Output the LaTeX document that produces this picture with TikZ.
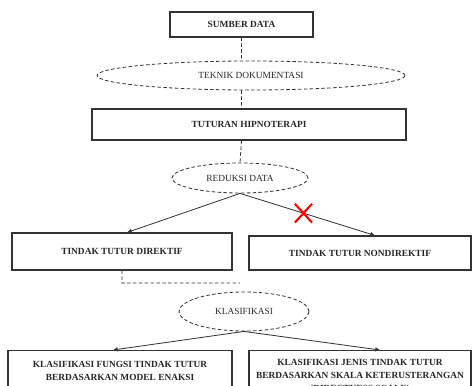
\documentclass[tikz,border=0pt]{standalone}
\usepackage{fontspec}
\setmainfont{Liberation Serif}
\usetikzlibrary{shapes.geometric,shapes.misc,arrows.meta,positioning}

\begin{document}
\begin{tikzpicture}[x=0.03cm,y=-0.03cm]
    \tikzset{box/.style={draw=black!80,line width=0.9pt,rectangle,align=center,inner sep=0pt,
        text=black!85,font=\fontsize{8}{11.4}\selectfont\bfseries},
      oval/.style={draw=black!80,ellipse,line width=0.7pt,dash pattern=on 3pt off 2pt,inner sep=0pt,
        text=black!85,font=\fontsize{8}{10}\selectfont},
      dashline/.style={draw=black!80,line width=0.7pt,dash pattern=on 3pt off 2pt},
      arrow/.style={draw=black!80,line width=0.7pt,-{Latex[length=4pt,width=4pt]}},
      cross/.style={cross out,draw=red,line width=1.8pt,inner sep=0pt,minimum width=0.45cm,minimum height=0.5cm}}
    \useasboundingbox (0,0) rectangle (472,385);
    \clip (0,0) rectangle (472,385);
    \node[box,minimum width=4.29cm,minimum height=0.75cm] (src) at (241.5,24.5) {SUMBER DATA};
    \node[oval,minimum width=9.24cm,minimum height=0.87cm] (tek) at (251,75.5) {TEKNIK DOKUMENTASI};
    \node[box,minimum width=9.42cm,minimum height=0.93cm] (tut) at (249,124.5) {TUTURAN HIPNOTERAPI};
    \node[oval,minimum width=4.08cm,minimum height=0.9cm] (red) at (240,178) {REDUKSI DATA};
    \node[box,minimum width=6.6cm,minimum height=1.11cm] (dir) at (122,251.5) {TINDAK TUTUR DIREKTIF};
    \node[box,minimum width=6.66cm,minimum height=1.02cm] (non) at (360,253) {TINDAK TUTUR NONDIREKTIF};
    \coordinate (bend) at (240,283);
    \node[oval,minimum width=3.9cm,minimum height=1.17cm] (kla) at (244,311.5) {KLASIFIKASI};
    \node[box,minimum width=6.72cm,minimum height=1.23cm,anchor=north] (fung) at (120,350)
      {KLASIFIKASI FUNGSI TINDAK TUTUR\\BERDASARKAN MODEL ENAKSI};
    \node[box,minimum width=6.66cm,minimum height=1.56cm,anchor=north] (jenis) at (360,350)
      {KLASIFIKASI JENIS TINDAK TUTUR\\BERDASARKAN SKALA KETERUSTERANGAN\\(DIRECTNESS SCALE)};
    % dashed links
    \path[dashline]
    (src.south) -- (src.south |- tek.north)
    (src.south |- tek.south) -- (src.south |- tut.north)
    (src.south |- tut.south) -- (red.north)
    (dir.south) |- (bend);
    % arrows
    \path
    (red.south) edge[arrow] ([xshift=0.15cm]dir.north)
    (red.south) edge[arrow] node[cross,pos=0.47] {} ([xshift=0.45cm]non.north)
    (kla.south) edge[arrow] ([xshift=-0.21cm]fung.north)
    (kla.south) edge[arrow] ([xshift=0.6cm]jenis.north);
\end{tikzpicture}
\end{document}
